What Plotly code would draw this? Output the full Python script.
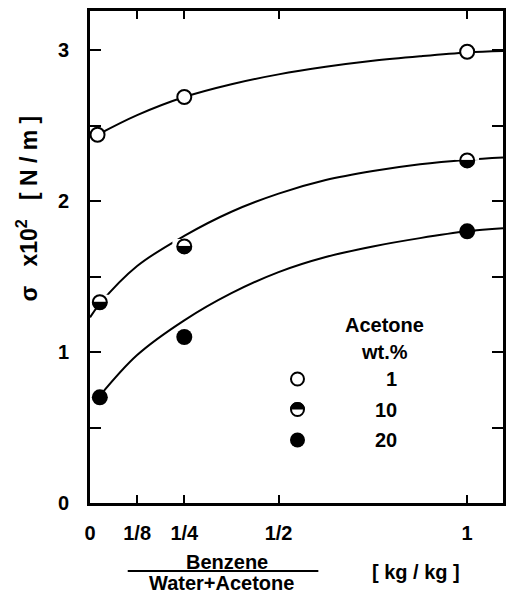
import plotly.graph_objects as go

# ---- data ----
x_tickvals = [0, 0.125, 0.25, 0.5, 1.0]
x_ticktext = ["0", "1/8", "1/4", "1/2", "1"]
y_tickvals = [0, 1, 2, 3]
y_ticktext = ["0", "1", "2", "3"]

acetone_levels = ["1", "10", "20"]

pts_x_1 = [0.02, 0.25, 1.0]
pts_y_1 = [2.44, 2.69, 2.99]
pts_x_10 = [0.026, 0.25, 1.0]
pts_y_10 = [1.33, 1.70, 2.27]
pts_x_20 = [0.026, 0.25, 1.0]
pts_y_20 = [0.70, 1.10, 1.80]

fit_x_1 = [0.02, 0.125, 0.25, 0.375, 0.5, 0.625, 0.75, 0.875, 1.0, 1.095]
fit_y_1 = [2.44, 2.57, 2.69, 2.775, 2.84, 2.89, 2.93, 2.96, 2.985, 2.995]
fit_x_10 = [0.0, 0.026, 0.125, 0.25, 0.375, 0.5, 0.625, 0.75, 0.875, 1.0, 1.095]
fit_y_10 = [1.23, 1.32, 1.57, 1.77, 1.93, 2.05, 2.14, 2.20, 2.245, 2.275, 2.29]
fit_x_20 = [0.026, 0.125, 0.25, 0.375, 0.5, 0.625, 0.75, 0.875, 1.0, 1.095]
fit_y_20 = [0.71, 0.98, 1.21, 1.39, 1.53, 1.63, 1.70, 1.755, 1.80, 1.82]

FONT = "Liberation Sans"
BLACK = "black"
MS = 15

fig = go.Figure()

# fitted curves
for fx, fy in [(fit_x_1, fit_y_1), (fit_x_10, fit_y_10), (fit_x_20, fit_y_20)]:
    fig.add_trace(go.Scatter(x=fx, y=fy, mode="lines",
                             line=dict(color=BLACK, width=2, shape="spline", smoothing=1),
                             showlegend=False, hoverinfo="skip", cliponaxis=True))

# 1 wt% : open circles
fig.add_trace(go.Scatter(x=pts_x_1, y=pts_y_1, mode="markers",
                         marker=dict(symbol="circle", size=MS - 1, color="white",
                                     line=dict(color=BLACK, width=2)),
                         showlegend=False, cliponaxis=False))

# 10 wt% : upper-half filled circles (three layers)
fig.add_trace(go.Scatter(x=pts_x_10, y=pts_y_10, mode="markers",
                         marker=dict(symbol="circle", size=MS, color=BLACK,
                                     line=dict(color=BLACK, width=0)),
                         showlegend=False, cliponaxis=False))
fig.add_trace(go.Scatter(x=pts_x_10, y=pts_y_10, mode="markers",
                         marker=dict(symbol="line-ew", size=MS + 2, color="white",
                                     angle=180, standoff=4,
                                     line=dict(color="white", width=7)),
                         showlegend=False, cliponaxis=False))
fig.add_trace(go.Scatter(x=pts_x_10, y=pts_y_10, mode="markers",
                         marker=dict(symbol="circle-open", size=MS - 1, color=BLACK,
                                     line=dict(color=BLACK, width=2)),
                         showlegend=False, cliponaxis=False))

# 20 wt% : filled circles
fig.add_trace(go.Scatter(x=pts_x_20, y=pts_y_20, mode="markers",
                         marker=dict(symbol="circle", size=MS + 1, color=BLACK,
                                     line=dict(color=BLACK, width=0)),
                         showlegend=False, cliponaxis=False))

tickfont = dict(family=FONT, size=20, color=BLACK, weight="bold")

fig.update_xaxes(range=[0, 1.095], tickvals=x_tickvals, ticktext=x_ticktext,
                 ticks="inside", ticklen=8, tickwidth=2, tickcolor=BLACK,
                 showline=True, linewidth=3, linecolor=BLACK, mirror="ticks",
                 showgrid=False, zeroline=False, tickfont=tickfont,
                 ticklabelstandoff=10)
fig.update_yaxes(range=[0, 3.26], tickvals=y_tickvals, ticktext=y_ticktext,
                 ticks="inside", ticklen=11, tickwidth=2, tickcolor=BLACK,
                 minor=dict(dtick=0.5, tick0=0, ticks="inside", ticklen=11,
                            tickwidth=2, tickcolor=BLACK, showgrid=False),
                 showline=True, linewidth=3, linecolor=BLACK, mirror="ticks",
                 showgrid=False, zeroline=False, tickfont=tickfont,
                 ticklabelstandoff=14)

W, H = 511, 598
L, R, T, B = 90, 5, 11, 95
pw, ph = W - L - R, H - T - B


def px(xp):
    return (xp - L) / pw


def py(yp):
    return (H - B - yp) / ph


annfont = dict(family=FONT, size=20, color=BLACK, weight="bold")
anns = [
    dict(text="σ   x10<sup>2</sup>   [ N / m ]", x=px(27), y=py(208), textangle=-90,
         font=dict(family=FONT, size=23, color=BLACK, weight="bold")),
    dict(text="Benzene", x=px(228), y=py(562)),
    dict(text="Water+Acetone", x=px(222), y=py(583)),
    dict(text="[ kg / kg ]", x=px(418), y=py(572)),
    dict(text="Acetone", x=px(387), y=py(325)),
    dict(text="wt.%", x=px(387), y=py(352)),
]
for i, lev in enumerate(acetone_levels):
    anns.append(dict(text=lev, x=px(401), y=py(379 + 30.5 * i), xanchor="right"))

for a in anns:
    a = dict(a)
    xa = a.pop("xanchor", "center")
    f = a.pop("font", annfont)
    fig.add_annotation(xref="paper", yref="paper", showarrow=False,
                       xanchor=xa, yanchor="middle", font=f, **a)

shapes = []
# fraction bar
shapes.append(dict(type="line", xref="paper", yref="paper",
                   x0=px(128), x1=px(320), y0=py(571), y1=py(571),
                   line=dict(color=BLACK, width=2)))
# legend keys
r = 7.5
k = 0.5523 * r
lx = px(299)
ly = [py(379), py(409.5), py(440)]
shapes.append(dict(type="circle", xref="paper", yref="paper", xsizemode="pixel",
                   ysizemode="pixel", xanchor=lx, yanchor=ly[0],
                   x0=-r + 1, x1=r - 1, y0=-r + 1, y1=r - 1,
                   fillcolor="white", line=dict(color=BLACK, width=2)))
shapes.append(dict(type="path", xref="paper", yref="paper", xsizemode="pixel",
                   ysizemode="pixel", xanchor=lx, yanchor=ly[1],
                   path=f"M {-r} 0 C {-r} {k} {-k} {r} 0 {r} C {k} {r} {r} {k} {r} 0 Z",
                   fillcolor=BLACK, line=dict(color=BLACK, width=0)))
shapes.append(dict(type="circle", xref="paper", yref="paper", xsizemode="pixel",
                   ysizemode="pixel", xanchor=lx, yanchor=ly[1],
                   x0=-r + 1, x1=r - 1, y0=-r + 1, y1=r - 1,
                   line=dict(color=BLACK, width=2)))
shapes.append(dict(type="circle", xref="paper", yref="paper", xsizemode="pixel",
                   ysizemode="pixel", xanchor=lx, yanchor=ly[2],
                   x0=-r, x1=r, y0=-r, y1=r,
                   fillcolor=BLACK, line=dict(color=BLACK, width=0)))

fig.update_layout(width=W, height=H, margin=dict(l=L, r=R, t=T, b=B),
                  plot_bgcolor="white", paper_bgcolor="white",
                  shapes=shapes, showlegend=False,
                  font=dict(family=FONT, color=BLACK))

fig.write_html("out.html")
